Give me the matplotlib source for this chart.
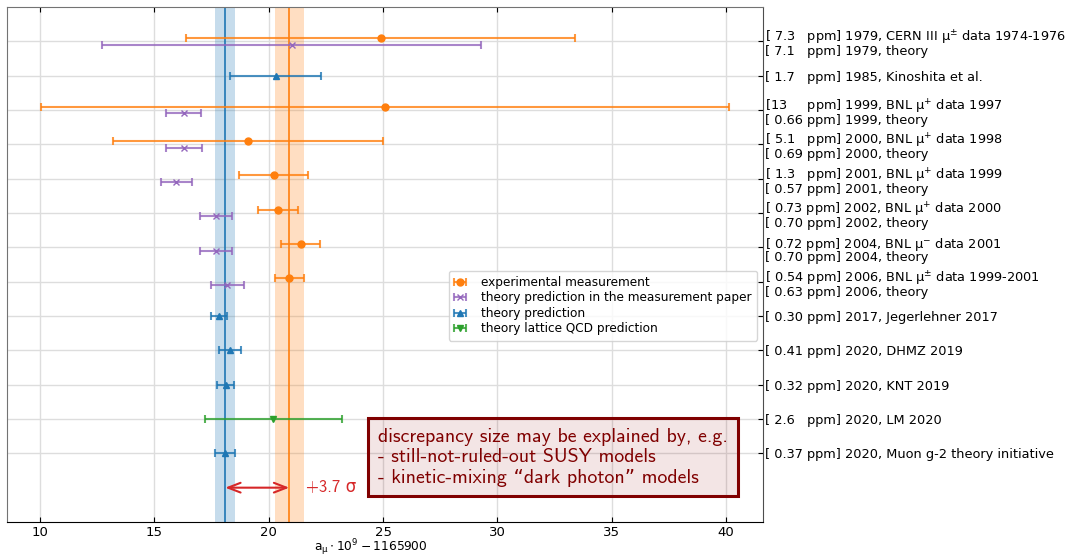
import matplotlib.pyplot as plt
import numpy as np

# row labels, top to bottom (right hand side); second line is the paper's theory value
row_line1 = [
    "[ 7.3   ppm] 1979, CERN III μ$^{\\pm}$ data 1974-1976",
    "[ 1.7   ppm] 1985, Kinoshita et al.",
    "[13     ppm] 1999, BNL μ$^{+}$ data 1997",
    "[ 5.1   ppm] 2000, BNL μ$^{+}$ data 1998",
    "[ 1.3   ppm] 2001, BNL μ$^{+}$ data 1999",
    "[ 0.73 ppm] 2002, BNL μ$^{+}$ data 2000",
    "[ 0.72 ppm] 2004, BNL μ$^{-}$ data 2001",
    "[ 0.54 ppm] 2006, BNL μ$^{\\pm}$ data 1999-2001",
    "[ 0.30 ppm] 2017, Jegerlehner 2017",
    "[ 0.41 ppm] 2020, DHMZ 2019",
    "[ 0.32 ppm] 2020, KNT 2019",
    "[ 2.6   ppm] 2020, LM 2020",
    "[ 0.37 ppm] 2020, Muon g-2 theory initiative",
]
row_line2 = [
    "[ 7.1   ppm] 1979, theory",
    None,
    "[ 0.66 ppm] 1999, theory",
    "[ 0.69 ppm] 2000, theory",
    "[ 0.57 ppm] 2001, theory",
    "[ 0.70 ppm] 2002, theory",
    "[ 0.70 ppm] 2004, theory",
    "[ 0.63 ppm] 2006, theory",
    None, None, None, None, None,
]

# experimental measurements (a_mu * 1e9 - 1165900)
exp_rows = [0, 2, 3, 4, 5, 6, 7]
exp_val = [24.9, 25.08, 19.1, 20.22, 20.41, 21.4, 20.9]
exp_err = [8.5, 15.03, 5.9, 1.5, 0.88, 0.84, 0.63]

# theory values quoted in the measurement papers
paper_val = [21.0, 16.28, 16.3, 15.96, 17.7, 17.7, 18.2]
paper_err = [8.3, 0.77, 0.78, 0.67, 0.70, 0.70, 0.73]

# standalone theory predictions
pred_rows = [1, 8, 9, 10, 12]
pred_val = [20.3, 17.84, 18.31, 18.12, 18.10]
pred_err = [2.0, 0.36, 0.48, 0.38, 0.43]

# lattice QCD
lat_rows = [11]
lat_val = [20.2]
lat_err = [3.0]

# reference bands
ref_theory, ref_theory_err = 18.10, 0.43
ref_exp, ref_exp_err = 20.9, 0.63
discrepancy = "+3.7 σ"

fig = plt.figure(figsize=(10.69, 5.58), dpi=100)
ax = fig.add_axes([0.0065, 0.0645, 0.7073, 0.923])

ax.axvspan(ref_theory - ref_theory_err, ref_theory + ref_theory_err,
           color='tab:blue', alpha=0.25, lw=0, zorder=1)
ax.axvline(ref_theory, color='tab:blue', lw=1.2, zorder=1.5)
ax.axvspan(ref_exp - ref_exp_err, ref_exp + ref_exp_err,
           color='tab:orange', alpha=0.25, lw=0, zorder=1)
ax.axvline(ref_exp, color='tab:orange', lw=1.2, zorder=1.5)


def draw(rows, val, err, fmt, color, label, offset=0.0, ms=5):
    y = np.array(rows) + offset
    c = ax.errorbar(val, y, xerr=err, fmt=fmt, color=color, ms=ms,
                    capsize=3, elinewidth=1.5, capthick=1.5, label=label, zorder=3)
    for a in c[1]:
        a.set_alpha(0.8)
    for a in c[2]:
        a.set_alpha(0.8)
    return c


draw(exp_rows, exp_val, exp_err, 'o', 'tab:orange', 'experimental measurement', -0.1)
draw(exp_rows, paper_val, paper_err, 'x', 'tab:purple',
     'theory prediction in the measurement paper', 0.1, ms=4)
draw(pred_rows, pred_val, pred_err, '^', 'tab:blue', 'theory prediction')
draw(lat_rows, lat_val, lat_err, 'v', 'tab:green', 'theory lattice QCD prediction')

ax.set_yticks(range(len(row_line1)))
ax.set_ylim(14, -1)
ax.set_xlim(8.56, 41.61)
ax.set_xticks([10, 15, 20, 25, 30, 35, 40])

ax.tick_params(axis='x', direction='in', top=True, bottom=True, labelsize=9.5, pad=3)
ax.tick_params(axis='y', direction='in', left=False, right=True,
               labelleft=False, labelright=False)
ax.grid(True, color='#dddddd', lw=1, zorder=0)
ax.set_axisbelow(True)
for s in ['left', 'top']:
    ax.spines[s].set_color('0.45')
ax.spines['right'].set_color('0.3')

# right hand labels: one or two lines per row
ytr = ax.get_yaxis_transform()
for i, (l1, l2) in enumerate(zip(row_line1, row_line2)):
    if l2 is None:
        ax.text(1.003, i, l1, transform=ytr, fontsize=9.3, va='center_baseline',
                ha='left', clip_on=False)
    else:
        ax.text(1.003, i + 0.02, l1, transform=ytr, fontsize=9.3, va='baseline',
                ha='left', clip_on=False)
        ax.text(1.003, i + 0.41, l2, transform=ytr, fontsize=9.3, va='baseline',
                ha='left', clip_on=False)

ax.set_xlabel(r"$\mathregular{a_\mu \cdot 10^9 - 1165900}$", fontsize=8.8,
              labelpad=-1.5, x=0.481)

ax.legend(loc='upper right', bbox_to_anchor=(1, 0.5), fontsize=8.7,
          handlelength=0.9, handletextpad=1.3, labelspacing=0.2, borderpad=0.45)

# discrepancy arrow
ax.annotate('', xy=(ref_exp, 13), xytext=(ref_theory, 13),
            arrowprops=dict(arrowstyle='<->,head_length=0.9,head_width=0.35',
                            color='tab:red', lw=1.5, shrinkA=0, shrinkB=0))
ax.text(ref_exp + 0.75, 13, discrepancy, color='tab:red', fontsize=12,
        va='center', family=['cmss10', 'DejaVu Sans'])

ax.text(24.78, 12.12,
        "discrepancy size may be explained by, e.g.\n"
        "- still-not-ruled-out SUSY models\n"
        "- kinetic-mixing “dark photon” models",
        color='#800000', fontsize=14.3, va='center', ha='left',
        family=['cmss10', 'DejaVu Sans'], linespacing=1.15,
        bbox=dict(boxstyle='square,pad=0.5', fc=(0.55, 0, 0, 0.1),
                  ec='#800000', lw=2.2))

plt.savefig('out.png')
